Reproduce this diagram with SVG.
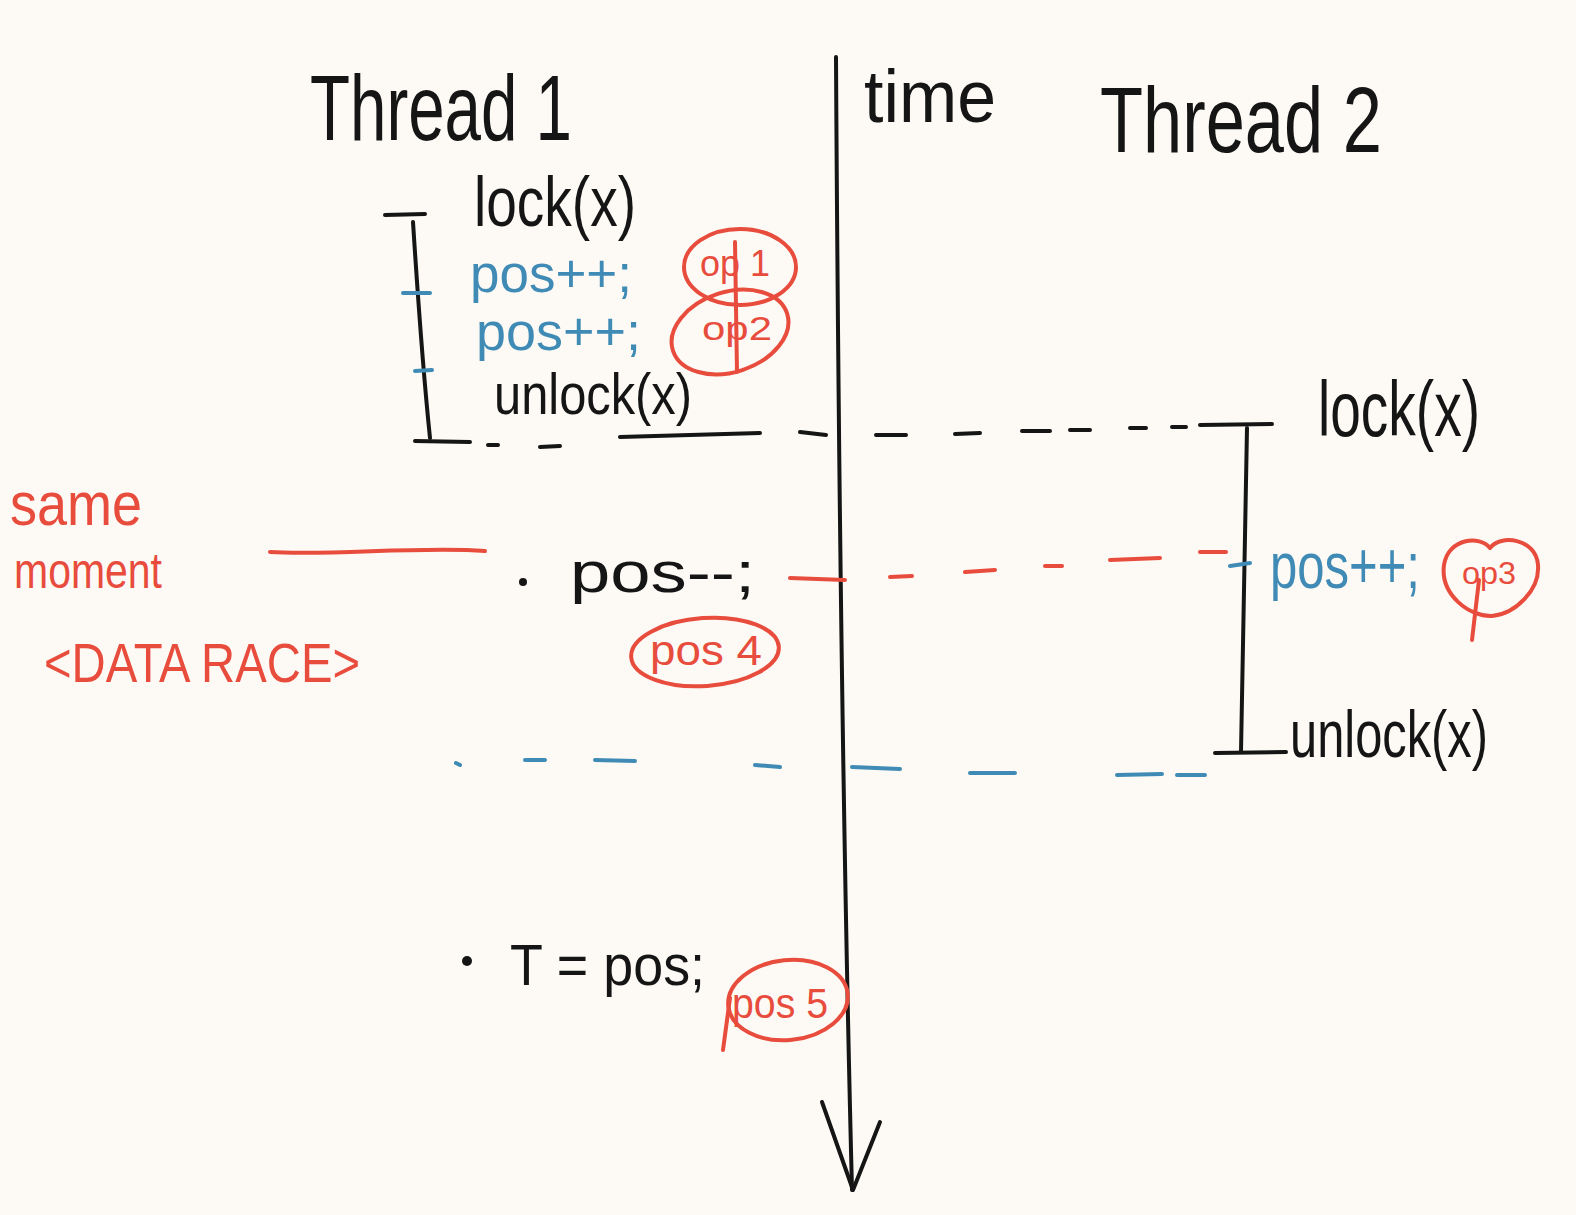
<svg xmlns="http://www.w3.org/2000/svg" width="1576" height="1215" viewBox="0 0 1576 1215">
<style>
.bg{fill:#fdfaf5}
.k{fill:#151515}
.r{fill:#e84c3d}
.b{fill:#3f8bb5}
text{font-family:"Liberation Sans","DejaVu Sans",sans-serif}
.ks{stroke:#151515;stroke-width:4;fill:none;stroke-linecap:round;stroke-linejoin:round}
.rs{stroke:#e84c3d;stroke-width:4;fill:none;stroke-linecap:round;stroke-linejoin:round}
.bs{stroke:#3f8bb5;stroke-width:4;fill:none;stroke-linecap:round;stroke-linejoin:round}
</style>
<rect class="bg" x="0" y="0" width="1576" height="1215"/>

<g id="connectors">
  <path class="ks" d="M836,57 C838,400 842,800 852,1190"/>
  <path class="ks" d="M822,1102 L853,1190 L880,1122"/>
  <path class="ks" d="M415,441 L470,442 M488,445 L498,445 M540,447 L560,446 M620,437 L760,433 M800,432 L826,435 M876,435 L906,435 M955,434 L980,433 M1022,431 L1050,431 M1070,430 L1090,430 M1130,428 L1146,428 M1172,427 L1186,427"/>
  <path class="rs" d="M790,578 L845,580 M890,577 L912,576 M965,572 L995,570 M1045,566 L1062,566 M1110,560 L1160,558 M1200,552 L1226,552"/>
  <path class="rs" d="M270,552 C330,556 420,546 485,551"/>
  <path class="bs" d="M456,763 L460,765 M525,760 L545,760 M595,760 L635,761 M755,765 L780,767 M852,767 L900,769 M970,773 L1015,773 M1117,775 L1162,774 M1177,775 L1205,775"/>
</g>

<g id="thread1-header"><text class="k" x="310" y="140" font-size="92" textLength="262" lengthAdjust="spacingAndGlyphs">Thread 1</text></g>
<g id="time-label"><text class="k" x="864" y="122" font-size="74" textLength="132" lengthAdjust="spacingAndGlyphs">time</text></g>
<g id="thread2-header"><text class="k" x="1100" y="152" font-size="92" textLength="282" lengthAdjust="spacingAndGlyphs">Thread 2</text></g>

<g id="thread1-critical-section">
  <path class="ks" d="M385,215 L425,214 M413,222 C418,300 424,380 430,438"/>
  <path class="bs" d="M403,293 L430,293 M415,371 L432,370"/>
  <text class="k" x="474" y="226" font-size="70" textLength="162" lengthAdjust="spacingAndGlyphs">lock(x)</text>
  <text class="b" x="470" y="292" font-size="54" textLength="162" lengthAdjust="spacingAndGlyphs">pos++;</text>
  <text class="b" x="476" y="350" font-size="54" textLength="165" lengthAdjust="spacingAndGlyphs">pos++;</text>
  <text class="k" x="494" y="414" font-size="58" textLength="198" lengthAdjust="spacingAndGlyphs">unlock(x)</text>
</g>

<g id="op1">
  <ellipse class="rs" cx="740" cy="267" rx="56" ry="38"/>
  <path class="rs" d="M735,242 L737,372"/>
  <text class="r" x="700" y="276" font-size="36" textLength="70" lengthAdjust="spacingAndGlyphs">op 1</text>
</g>
<g id="op2">
  <ellipse class="rs" cx="730" cy="332" rx="60" ry="40" transform="rotate(-18 730 332)"/>
  <text class="r" x="702" y="340" font-size="34" textLength="70" lengthAdjust="spacingAndGlyphs">op2</text>
</g>

<g id="thread2-critical-section">
  <path class="ks" d="M1200,425 L1272,424 M1247,428 C1244,540 1242,650 1241,752 M1215,753 L1286,752"/>
  <path class="bs" d="M1230,566 L1250,563"/>
  <text class="k" x="1318" y="436" font-size="78" textLength="162" lengthAdjust="spacingAndGlyphs">lock(x)</text>
  <text class="b" x="1270" y="588" font-size="64" textLength="150" lengthAdjust="spacingAndGlyphs">pos++;</text>
  <text class="k" x="1290" y="757" font-size="66" textLength="198" lengthAdjust="spacingAndGlyphs">unlock(x)</text>
</g>

<g id="op3">
  <path class="rs" d="M1490,548 C1480,535 1448,538 1444,565 C1440,595 1470,617 1492,616 C1515,614 1540,590 1538,565 C1536,538 1500,534 1490,548 Z"/>
  <path class="rs" d="M1479,580 L1472,640"/>
  <text class="r" x="1462" y="584" font-size="32" textLength="54" lengthAdjust="spacingAndGlyphs">op3</text>
</g>

<g id="same-moment-note">
  <text class="r" x="10" y="525" font-size="62" textLength="132" lengthAdjust="spacingAndGlyphs">same</text>
  <text class="r" x="14" y="588" font-size="50" textLength="148" lengthAdjust="spacingAndGlyphs">moment</text>
  <text class="r" x="44" y="682" font-size="56" textLength="316" lengthAdjust="spacingAndGlyphs">&lt;DATA RACE&gt;</text>
</g>

<g id="pos-decrement">
  <circle class="k" cx="523" cy="582" r="4"/>
  <text class="k" x="570" y="592" font-size="58" textLength="185" lengthAdjust="spacingAndGlyphs">pos--;</text>
</g>
<g id="pos4">
  <ellipse class="rs" cx="705" cy="652" rx="74" ry="34" transform="rotate(-4 705 652)"/>
  <text class="r" x="650" y="665" font-size="42" textLength="112" lengthAdjust="spacingAndGlyphs">pos 4</text>
</g>

<g id="read-pos">
  <circle class="k" cx="467" cy="961" r="5"/>
  <text class="k" x="510" y="985" font-size="58" textLength="195" lengthAdjust="spacingAndGlyphs">T = pos;</text>
</g>
<g id="pos5">
  <ellipse class="rs" cx="788" cy="1000" rx="60" ry="40" transform="rotate(-6 788 1000)"/>
  <path class="rs" d="M730,998 L723,1050"/>
  <text class="r" x="732" y="1018" font-size="42" textLength="96" lengthAdjust="spacingAndGlyphs">pos 5</text>
</g>
</svg>
